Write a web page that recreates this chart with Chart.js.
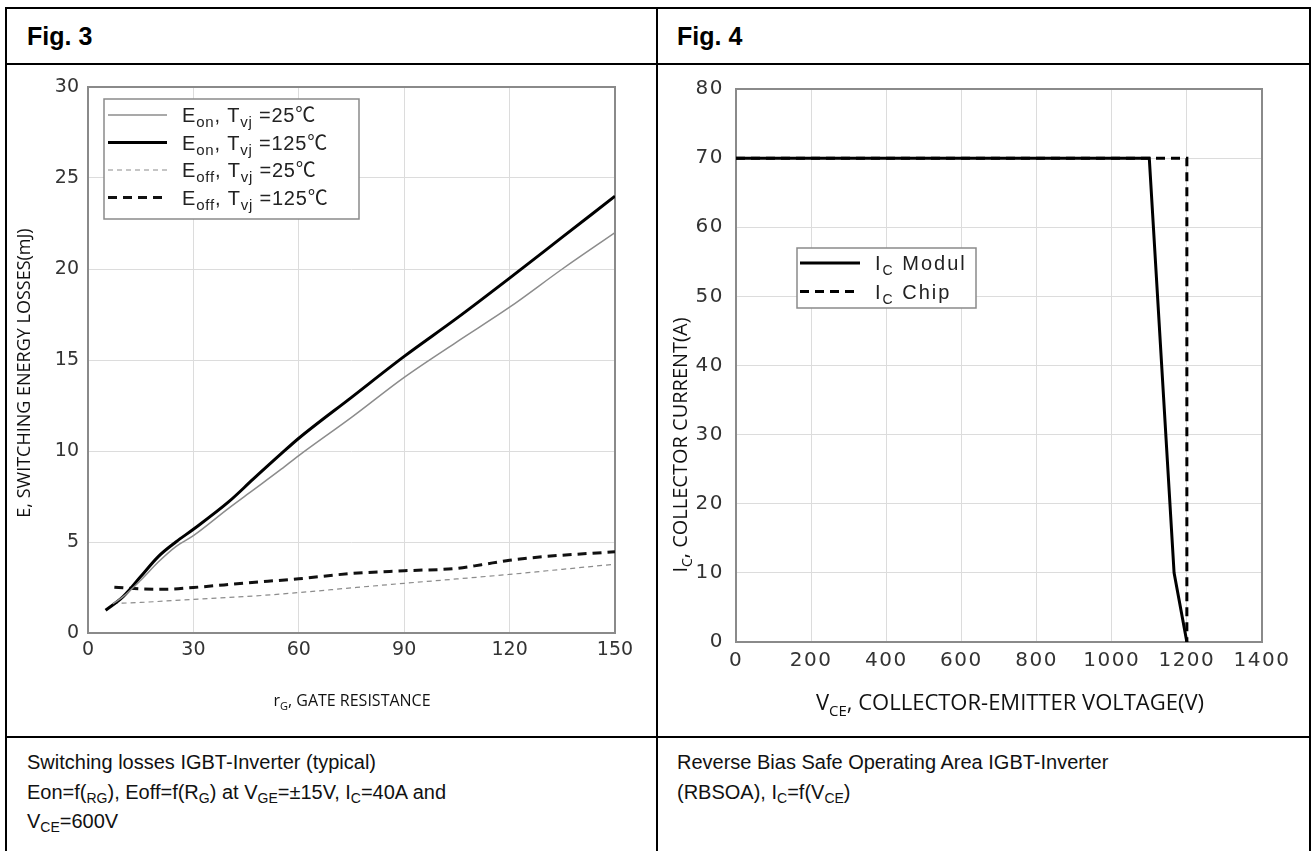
<!DOCTYPE html>
<html>
<head>
<meta charset="utf-8">
<script src="https://cdn.jsdelivr.net/npm/chart.js@4.4.0/dist/chart.umd.min.js"></script>
<style>
body { margin:0; background:#fff; width:1314px; height:851px; overflow:hidden; position:relative; font-family:"Liberation Sans", Arial, sans-serif; }
.ln { position:absolute; background:#000; }
.head { position:absolute; font-weight:bold; font-size:25px; color:#000; line-height:28px; }
.cap { position:absolute; font-size:20px; line-height:29.5px; color:#111; }
.cap sub { font-size:14px; vertical-align:-4px; line-height:0; }
canvas { position:absolute; }
</style>
</head>
<body>
<!-- table frame -->
<div class="ln" style="left:5px;top:7px;width:1306px;height:2px"></div>
<div class="ln" style="left:5px;top:63px;width:1306px;height:2px"></div>
<div class="ln" style="left:5px;top:736px;width:1306px;height:2px"></div>
<div class="ln" style="left:5px;top:7px;width:2px;height:900px"></div>
<div class="ln" style="left:656px;top:7px;width:2px;height:900px"></div>
<div class="ln" style="left:1309px;top:7px;width:2px;height:900px"></div>

<div class="head" style="left:27px;top:22px">Fig. 3</div>
<div class="head" style="left:677px;top:22px">Fig. 4</div>

<canvas id="fig3" width="649" height="671" style="left:7px;top:65px"></canvas>
<canvas id="fig4" width="651" height="671" style="left:658px;top:65px"></canvas>

<div class="cap" style="left:27px;top:748px">Switching losses IGBT-Inverter (typical)<br>Eon=f(<sub>RG</sub>), Eoff=f(R<sub>G</sub>) at V<sub>GE</sub>=±15V, I<sub>C</sub>=40A and<br>V<sub>CE</sub>=600V</div>
<div class="cap" style="left:677px;top:748px">Reverse Bias Safe Operating Area IGBT-Inverter<br>(RBSOA), I<sub>C</sub>=f(V<sub>CE</sub>)</div>

<script>
// Fig. 3 : switching energy vs gate resistance, [rG, E(mJ)]
const eon25 = [[7,1.6],[10,2.0],[15,2.9],[20,3.9],[25,4.75],[30,5.35],[40,6.85],[47,7.85],[55,9.0],[60,9.75],[75,11.85],[90,14.05],[105,16.0],[120,17.9],[135,20.0],[150,22.0]];
const eon125 = [[5,1.25],[10,2.0],[15,3.1],[20,4.2],[25,5.0],[30,5.7],[40,7.2],[47,8.45],[55,9.85],[60,10.7],[75,12.95],[90,15.2],[105,17.3],[120,19.5],[135,21.75],[150,24.0]];
const eoff25 = [[7,1.62],[15,1.68],[30,1.85],[47,2.03],[60,2.22],[75,2.48],[90,2.73],[105,2.97],[120,3.22],[135,3.5],[150,3.78]];
const eoff125 = [[7.5,2.52],[15,2.42],[22,2.4],[30,2.5],[45,2.75],[60,2.98],[75,3.27],[90,3.42],[105,3.55],[112,3.75],[120,4.0],[130,4.2],[150,4.46]];
const fig3Labels = ['Eon, Tvj =25℃', 'Eon, Tvj =125℃', 'Eoff, Tvj =25℃', 'Eoff, Tvj =125℃'];

// Fig. 4 : RBSOA, [VCE(V), IC(A)]
const icModul = [[0,70],[1100,70],[1166,10],[1200,0]];
const icChip = [[0,70],[1200,70],[1200,0]];
const fig4Labels = ['IC Modul', 'IC Chip'];

const toXY = arr => arr.map(p => ({x: p[0], y: p[1]}));

// text made of pieces: 0 normal, 1 subscript, 2 symbol (CJK font)
function pieceFont(f, k) { return k === 1 ? f.sub : (k === 2 ? f.sym : f.main); }
function runsWidth(ctx, runs, f) {
    let w = 0;
    ctx.letterSpacing = f.spacing || '0px';
    runs.forEach(r => { ctx.font = pieceFont(f, r[1]); w += ctx.measureText(r[0]).width; });
    return w;
}
function drawRuns(ctx, runs, x, y, f) {
    ctx.textBaseline = 'alphabetic';
    ctx.textAlign = 'left';
    ctx.letterSpacing = f.spacing || '0px';
    runs.forEach(r => {
        ctx.font = pieceFont(f, r[1]);
        ctx.fillText(r[0], x, y + (r[1] === 1 ? f.shift : 0));
        x += ctx.measureText(r[0]).width;
    });
}

const decor = {
    id: 'decor',
    beforeDraw(chart, args, o) {
        chart.ctx.letterSpacing = o.tickSpacing || '0px';
    },
    beforeDatasetsDraw(chart, args, o) {
        const {ctx, chartArea: a} = chart;
        ctx.save();
        ctx.strokeStyle = '#8a8a8a';
        ctx.lineWidth = 2;
        ctx.strokeRect(a.left, a.top, a.right - a.left, a.bottom - a.top);
        ctx.restore();
    },
    afterDatasetsDraw(chart, args, o) {
        const {ctx, chartArea: a} = chart;
        const lg = o.legend;
        ctx.save();
        const bx = a.left + lg.x, by = a.top + lg.y;
        ctx.fillStyle = '#fff';
        ctx.fillRect(bx, by, lg.w, lg.h);
        ctx.strokeStyle = '#8a8a8a';
        ctx.lineWidth = 1.5;
        ctx.strokeRect(bx, by, lg.w, lg.h);
        chart.data.datasets.forEach((ds, i) => {
            const y = by + lg.first + i * lg.gap;
            ctx.strokeStyle = ds.borderColor;
            ctx.lineWidth = ds.borderWidth;
            ctx.setLineDash(ds.borderDash || []);
            ctx.beginPath();
            ctx.moveTo(bx + lg.l0, y);
            ctx.lineTo(bx + lg.l1, y);
            ctx.stroke();
            ctx.setLineDash([]);
            ctx.fillStyle = '#222';
            drawRuns(ctx, lg.runs[i], bx + lg.tx, y + lg.font.base, lg.font);
        });
        // axis titles
        ctx.fillStyle = '#111';
        const xt = o.xTitle;
        drawRuns(ctx, xt.runs, xt.cx - runsWidth(ctx, xt.runs, xt.font) / 2, xt.cy, xt.font);
        const yt = o.yTitle;
        ctx.translate(yt.cx, yt.cy);
        ctx.rotate(-Math.PI / 2);
        drawRuns(ctx, yt.runs, -runsWidth(ctx, yt.runs, yt.font) / 2, 0, yt.font);
        ctx.restore();
    },
    afterDraw(chart) {
        chart.ctx.letterSpacing = '0px';
    }
};

function titleFont(size) {
    return {main: size + 'px "Open Sans"', sub: Math.round(size * 0.7) + 'px "Open Sans"', shift: Math.round(size * 0.25)};
}

function axes(xMax, xStep, yMax, yStep, yWidth, xHeight, xPad, yPad, fontSize) {
    const font = {family: '"DejaVu Sans", sans-serif', size: fontSize};
    return {
        x: {
            type: 'linear', min: 0, max: xMax,
            ticks: {stepSize: xStep, color: '#333', font: font, padding: xPad, maxRotation: 0, callback: v => String(v)},
            grid: {color: '#dcdcdc', drawTicks: false},
            border: {display: false},
            afterFit: s => { s.height = xHeight; }
        },
        y: {
            type: 'linear', min: 0, max: yMax,
            ticks: {stepSize: yStep, color: '#333', font: font, padding: yPad, callback: v => String(v)},
            grid: {color: '#dcdcdc', drawTicks: false},
            border: {display: false},
            afterFit: s => { s.width = yWidth; }
        }
    };
}

new Chart(document.getElementById('fig3'), {
    type: 'line',
    data: {
        datasets: [
            {label: fig3Labels[0], data: toXY(eon25), borderColor: '#8c8c8c', borderWidth: 1.5},
            {label: fig3Labels[1], data: toXY(eon125), borderColor: '#000', borderWidth: 3},
            {label: fig3Labels[2], data: toXY(eoff25), borderColor: '#8c8c8c', borderWidth: 1.2, borderDash: [5, 4]},
            {label: fig3Labels[3], data: toXY(eoff125), borderColor: '#111', borderWidth: 3, borderDash: [9, 6]}
        ]
    },
    options: {
        responsive: false,
        animation: false,
        layout: {padding: {top: 22, right: 41, left: 0, bottom: 0}},
        elements: {point: {radius: 0}, line: {cubicInterpolationMode: 'monotone'}},
        scales: axes(150, 30, 30, 5, 81, 103, 6, 9, 19),
        plugins: {
            legend: {display: false},
            tooltip: {enabled: false},
            decor: {
                legend: {
                    x: 16, y: 12, w: 255, h: 120, first: 16, gap: 27.5, l0: 4, l1: 63, tx: 78,
                    font: {main: '20px "Liberation Sans"', sub: '15px "Liberation Sans"', sym: '20px "Noto Sans CJK SC"', shift: 5, base: 7, spacing: '0.8px'},
                    runs: [
                        [['E',0],['on',1],[', T',0],['vj',1],[' =25',0],['℃',2]],
                        [['E',0],['on',1],[', T',0],['vj',1],[' =125',0],['℃',2]],
                        [['E',0],['off',1],[', T',0],['vj',1],[' =25',0],['℃',2]],
                        [['E',0],['off',1],[', T',0],['vj',1],[' =125',0],['℃',2]]
                    ]
                },
                xTitle: {runs: [['r',0],['G',1],[', GATE RESISTANCE',0]], cx: 345, cy: 641, font: titleFont(16)},
                yTitle: {runs: [['E, SWITCHING ENERGY LOSSES(mJ)',0]], cx: 23, cy: 308, font: titleFont(18)}
            }
        }
    },
    plugins: [decor]
});

new Chart(document.getElementById('fig4'), {
    type: 'line',
    data: {
        datasets: [
            {label: fig4Labels[0], data: toXY(icModul), borderColor: '#000', borderWidth: 3},
            {label: fig4Labels[1], data: toXY(icChip), borderColor: '#000', borderWidth: 3, borderDash: [9, 6]}
        ]
    },
    options: {
        responsive: false,
        animation: false,
        layout: {padding: {top: 22, right: 47, left: 0, bottom: 0}},
        elements: {point: {radius: 0}, line: {tension: 0}},
        scales: axes(1400, 200, 80, 10, 78, 94, 7, 12, 20),
        plugins: {
            legend: {display: false},
            tooltip: {enabled: false},
            decor: {
                tickSpacing: '1.5px',
                legend: {
                    x: 61, y: 159, w: 179, h: 60, first: 15, gap: 28.5, l0: 3, l1: 63, tx: 78,
                    font: {main: '20px "Liberation Sans"', sub: '14px "Liberation Sans"', shift: 5, base: 7, spacing: '2px'},
                    runs: [
                        [['I',0],['C',1],[' Modul',0]],
                        [['I',0],['C',1],[' Chip',0]]
                    ]
                },
                xTitle: {runs: [['V',0],['CE',1],[', COLLECTOR-EMITTER VOLTAGE(V)',0]], cx: 352, cy: 645, font: titleFont(22)},
                yTitle: {runs: [['I',0],['C',1],[', COLLECTOR CURRENT(A)',0]], cx: 29, cy: 380, font: titleFont(20)}
            }
        }
    },
    plugins: [decor]
});
</script>
</body>
</html>
